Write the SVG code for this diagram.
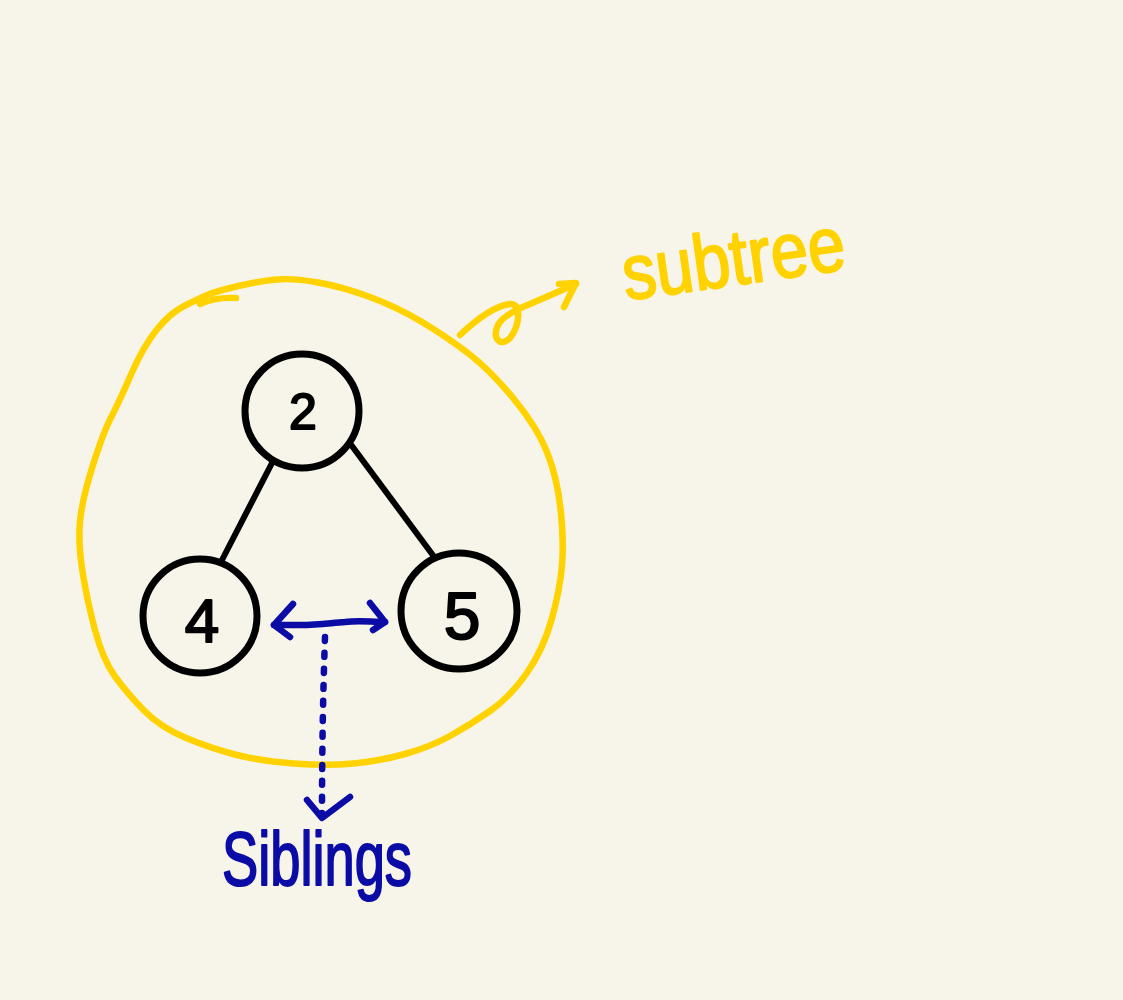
<svg xmlns="http://www.w3.org/2000/svg" width="1123" height="1000" viewBox="0 0 1123 1000">
<style>
.node circle{fill:none;stroke:#000;stroke-width:7}
.digit{font-family:"Liberation Sans",Arial,sans-serif;fill:#000;stroke:#000;stroke-width:2;text-anchor:middle;stroke-linejoin:round}
.edge{stroke:#000;stroke-width:6;fill:none;stroke-linecap:round}
.yel{stroke:#ffd200;fill:none;stroke-width:6.5;stroke-linecap:round;stroke-linejoin:round}
.blu{stroke:#0b0ba6;fill:none;stroke-width:6.5;stroke-linecap:round;stroke-linejoin:round}
.lbl{font-family:"Liberation Sans",Arial,sans-serif;stroke-width:2;stroke-linejoin:round}
</style>
<rect width="1123" height="1000" fill="#f7f5e9"/>
<g id="subtree-outline">
<path class="yel" d="M 238.5,286 Q 260,281 276.5,279.5 Q 293,278 318,282.5 Q 343,287 370,297 Q 397,307 422,322 Q 447,337 468.5,353.5 Q 490,370 513.5,398.5 Q 537,427 547,452 Q 557,477 560.5,508.5 Q 564,540 562,565 Q 560,590 551.5,620 Q 543,650 526.5,673.5 Q 510,697 490,711 Q 470,725 450,736 Q 430,747 405,754 Q 380,761 353.5,763.5 Q 327,766 293.5,763.5 Q 260,761 235,754.5 Q 210,748 185,737.5 Q 160,727 143.5,710 Q 127,693 115,676.5 Q 103,660 95,630 Q 87,600 82.5,571.5 Q 78,543 80,521.5 Q 82,500 92.5,466.5 Q 103,433 111.5,416.5 Q 120,400 131.5,373.5 Q 143,347 156.5,330 Q 170,313 185,305.5 Q 200,298 208.5,294.5 Q 217,291 238.5,286"/>
<path class="yel" d="M200,304 Q215,297 236,298"/>
</g>
<g id="connectors">
<line class="edge" x1="272" y1="463" x2="222" y2="560"/>
<line class="edge" x1="352" y1="446" x2="435" y2="558"/>
<path class="yel" d="M460,335 C478,318 495,306 510,304 C522,303 520,325 510,338 C500,348 492,338 498,325 C503,315 520,308 530,304 L576,284"/>
<path class="yel" d="M559,284 L576,283 L564,307"/>
<path class="blu" d="M274,625 L300,625 C320,625 330,623 345,622 C360,620 370,622 385,622"/>
<path class="blu" d="M293,604 L274,625 L290,637"/>
<path class="blu" d="M370,603 L385,622 L373,630"/>
<path class="blu" stroke-width="8" stroke-dasharray="4 12" d="M325,637 Q322,720 322,815"/>
<path class="blu" d="M307,800 L322,818 L350,797"/>
</g>
<g id="node-2" class="node"><circle cx="302" cy="411" r="57"/><text class="digit" x="303" y="429" font-size="50">2</text></g>
<g id="node-4" class="node"><circle cx="200" cy="616" r="57"/><text class="digit" x="202" y="642" font-size="62">4</text></g>
<g id="node-5" class="node"><circle cx="459" cy="611" r="58"/><text class="digit" x="462" y="639" font-size="66">5</text></g>
<g id="label-subtree"><text class="lbl" x="625" y="285" font-size="78" fill="#ffd200" stroke="#ffd200" textLength="224" lengthAdjust="spacingAndGlyphs" transform="rotate(-8 735 285)">subtree</text></g>
<g id="label-siblings"><text class="lbl" x="222" y="885" font-size="76" fill="#0b0ba6" stroke="#0b0ba6" textLength="190" lengthAdjust="spacingAndGlyphs">Siblings</text></g>
</svg>
